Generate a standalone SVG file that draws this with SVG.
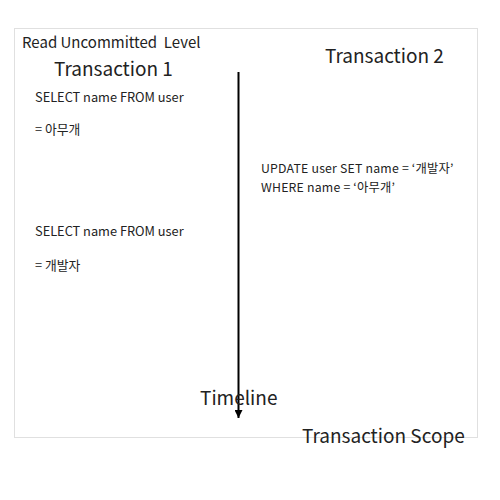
<svg xmlns="http://www.w3.org/2000/svg" width="500" height="500" viewBox="0 0 500 500">
<style>
text{font-family:"Noto Sans CJK KR","Noto Sans",sans-serif;fill:#222}
.big{font-size:19px}
.mid{font-size:15px}
.sm{font-size:12.8px}
.upd{font-size:12.3px;letter-spacing:0.2px}
</style>
<defs>
<marker id="ah" viewBox="0 0 10 10" refX="10" refY="5" markerWidth="4" markerHeight="4" orient="auto"><path d="M0,0L10,5L0,10z" fill="#000"/></marker>
</defs>
<rect width="500" height="500" fill="#fff"/>
<rect id="scope" x="14.5" y="28.5" width="463" height="409" fill="none" stroke="#e0e0e0" stroke-width="1"/>
<g id="title"><text class="mid" x="22" y="48" xml:space="preserve">Read Uncommitted  Level</text></g>
<g id="tx1">
<text class="big" x="54" y="76">Transaction 1</text>
<text class="sm" x="35" y="102">SELECT name FROM user</text>
<text class="sm" x="35" y="134">= 아무개</text>
<text class="sm" x="35" y="236">SELECT name FROM user</text>
<text class="sm" x="35" y="270">= 개발자</text>
</g>
<g id="tx2">
<text class="big" x="325" y="63">Transaction 2</text>
<text class="upd" x="261" y="173">UPDATE user SET name = ‘개발자’</text>
<text class="upd" x="261" y="191.5">WHERE name = ‘아무개’</text>
</g>
<g id="connectors">
<line x1="238.5" y1="72" x2="238.5" y2="418" stroke="#000" stroke-width="2" marker-end="url(#ah)"/>
</g>
<g id="timeline"><text class="big" x="200" y="405">Timeline</text></g>
<g id="scopeLabel"><text class="big" x="302" y="443">Transaction Scope</text></g>
</svg>
